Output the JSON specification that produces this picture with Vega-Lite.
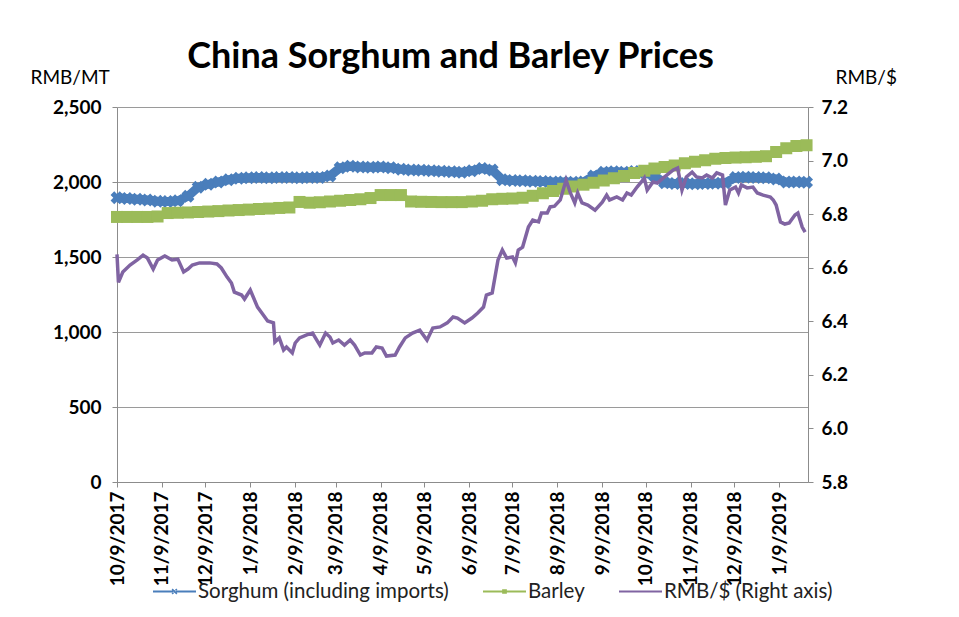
{
"$schema": "https://vega.github.io/schema/vega-lite/v6.json",
"width": 691, "height": 375,
"autosize": {"type": "none"},
"padding": {"left": 117, "top": 107, "right": 151, "bottom": 135},
"background": "white",
"title": {"text": "China Sorghum and Barley Prices", "font": "Lato", "fontSize": 36, "fontWeight": "bold", "color": "#000", "anchor": "middle", "frame": "group", "dx": -12, "offset": -36, "baseline": "alphabetic"},
"datasets": {
"sorghum": [
{"d":"2017-10-09","v":1895},{"d":"2017-10-16","v":1890},{"d":"2017-10-23","v":1885},{"d":"2017-10-30","v":1880},{"d":"2017-11-06","v":1872},{"d":"2017-11-13","v":1870},{"d":"2017-11-20","v":1875},{"d":"2017-11-27","v":1905},{"d":"2017-12-04","v":1965},{"d":"2017-12-11","v":1985},{"d":"2017-12-18","v":2000},{"d":"2017-12-25","v":2015},
{"d":"2018-01-01","v":2025},{"d":"2018-01-08","v":2028},{"d":"2018-01-15","v":2030},{"d":"2018-01-22","v":2028},{"d":"2018-01-29","v":2030},{"d":"2018-02-05","v":2030},{"d":"2018-02-12","v":2028},{"d":"2018-02-19","v":2030},{"d":"2018-02-26","v":2030},{"d":"2018-03-05","v":2040},{"d":"2018-03-12","v":2095},{"d":"2018-03-19","v":2105},{"d":"2018-03-26","v":2100},
{"d":"2018-04-02","v":2098},{"d":"2018-04-09","v":2100},{"d":"2018-04-16","v":2095},{"d":"2018-04-23","v":2085},{"d":"2018-04-30","v":2080},{"d":"2018-05-07","v":2078},{"d":"2018-05-14","v":2075},{"d":"2018-05-21","v":2072},{"d":"2018-05-28","v":2068},{"d":"2018-06-04","v":2065},{"d":"2018-06-11","v":2075},{"d":"2018-06-18","v":2090},{"d":"2018-06-25","v":2080},
{"d":"2018-07-02","v":2015},{"d":"2018-07-09","v":2010},{"d":"2018-07-16","v":2008},{"d":"2018-07-23","v":2005},{"d":"2018-07-30","v":2003},{"d":"2018-08-06","v":2000},{"d":"2018-08-13","v":2000},{"d":"2018-08-20","v":1998},{"d":"2018-08-27","v":2000},{"d":"2018-09-03","v":2040},{"d":"2018-09-10","v":2065},{"d":"2018-09-17","v":2068},{"d":"2018-09-24","v":2065},
{"d":"2018-10-01","v":2070},{"d":"2018-10-08","v":2065},{"d":"2018-10-15","v":2040},{"d":"2018-10-22","v":1995},{"d":"2018-10-29","v":1990},{"d":"2018-11-05","v":1990},{"d":"2018-11-12","v":1988},{"d":"2018-11-19","v":1990},{"d":"2018-11-26","v":1992},{"d":"2018-12-03","v":1995},{"d":"2018-12-10","v":2030},{"d":"2018-12-17","v":2032},{"d":"2018-12-24","v":2030},{"d":"2018-12-31","v":2028},
{"d":"2019-01-07","v":2020},{"d":"2019-01-14","v":2000},{"d":"2019-01-21","v":2000},{"d":"2019-01-28","v":1998}
],
"barley": [
{"d":"2017-10-09","v":1767},{"d":"2017-10-16","v":1767},{"d":"2017-10-23","v":1767},{"d":"2017-10-30","v":1767},{"d":"2017-11-06","v":1770},{"d":"2017-11-13","v":1793},{"d":"2017-11-20","v":1795},{"d":"2017-11-27","v":1797},{"d":"2017-12-04","v":1800},{"d":"2017-12-11","v":1803},{"d":"2017-12-18","v":1806},{"d":"2017-12-25","v":1810},
{"d":"2018-01-01","v":1813},{"d":"2018-01-08","v":1816},{"d":"2018-01-15","v":1820},{"d":"2018-01-22","v":1823},{"d":"2018-01-29","v":1827},{"d":"2018-02-05","v":1830},{"d":"2018-02-12","v":1867},{"d":"2018-02-19","v":1862},{"d":"2018-02-26","v":1865},{"d":"2018-03-05","v":1870},{"d":"2018-03-12","v":1875},{"d":"2018-03-19","v":1880},{"d":"2018-03-26","v":1885},
{"d":"2018-04-02","v":1893},{"d":"2018-04-09","v":1913},{"d":"2018-04-16","v":1913},{"d":"2018-04-23","v":1913},{"d":"2018-04-30","v":1870},{"d":"2018-05-07","v":1868},{"d":"2018-05-14","v":1867},{"d":"2018-05-21","v":1866},{"d":"2018-05-28","v":1866},{"d":"2018-06-04","v":1866},{"d":"2018-06-11","v":1870},{"d":"2018-06-18","v":1875},{"d":"2018-06-25","v":1885},
{"d":"2018-07-02","v":1888},{"d":"2018-07-09","v":1890},{"d":"2018-07-16","v":1895},{"d":"2018-07-23","v":1908},{"d":"2018-07-30","v":1925},{"d":"2018-08-06","v":1940},{"d":"2018-08-13","v":1955},{"d":"2018-08-20","v":1970},{"d":"2018-08-27","v":1982},{"d":"2018-09-03","v":1995},{"d":"2018-09-10","v":2010},{"d":"2018-09-17","v":2025},{"d":"2018-09-24","v":2040},
{"d":"2018-10-01","v":2060},{"d":"2018-10-08","v":2075},{"d":"2018-10-15","v":2090},{"d":"2018-10-22","v":2100},{"d":"2018-10-29","v":2110},{"d":"2018-11-05","v":2125},{"d":"2018-11-12","v":2135},{"d":"2018-11-19","v":2145},{"d":"2018-11-26","v":2155},{"d":"2018-12-03","v":2160},{"d":"2018-12-10","v":2163},{"d":"2018-12-17","v":2165},{"d":"2018-12-24","v":2168},{"d":"2018-12-31","v":2172},
{"d":"2019-01-07","v":2200},{"d":"2019-01-14","v":2225},{"d":"2019-01-21","v":2240},{"d":"2019-01-28","v":2245}
],
"rmb": [
{"d":"2017-10-09","v":6.65},{"d":"2017-10-10","v":6.545},{"d":"2017-10-13","v":6.584},{"d":"2017-10-18","v":6.61},{"d":"2017-10-23","v":6.629},{"d":"2017-10-27","v":6.647},{"d":"2017-10-30","v":6.636},{"d":"2017-11-03","v":6.595},{"d":"2017-11-06","v":6.629},{"d":"2017-11-11","v":6.644},{"d":"2017-11-16","v":6.629},{"d":"2017-11-20","v":6.632},{"d":"2017-11-24","v":6.584},{"d":"2017-11-27","v":6.595},{"d":"2017-11-30","v":6.61},
{"d":"2017-12-05","v":6.618},{"d":"2017-12-12","v":6.618},{"d":"2017-12-17","v":6.614},{"d":"2017-12-20","v":6.599},{"d":"2017-12-24","v":6.565},{"d":"2017-12-27","v":6.543},{"d":"2017-12-29","v":6.509},
{"d":"2018-01-03","v":6.498},{"d":"2018-01-05","v":6.483},{"d":"2018-01-09","v":6.517},{"d":"2018-01-14","v":6.453},{"d":"2018-01-17","v":6.431},{"d":"2018-01-21","v":6.401},{"d":"2018-01-25","v":6.394},{"d":"2018-01-26","v":6.323},{"d":"2018-01-29","v":6.338},
{"d":"2018-02-01","v":6.293},{"d":"2018-02-03","v":6.304},{"d":"2018-02-07","v":6.282},{"d":"2018-02-09","v":6.319},{"d":"2018-02-12","v":6.338},{"d":"2018-02-17","v":6.349},{"d":"2018-02-21","v":6.356},{"d":"2018-02-26","v":6.311},
{"d":"2018-03-02","v":6.356},{"d":"2018-03-05","v":6.341},{"d":"2018-03-07","v":6.319},{"d":"2018-03-11","v":6.33},{"d":"2018-03-15","v":6.311},{"d":"2018-03-19","v":6.33},{"d":"2018-03-22","v":6.311},{"d":"2018-03-26","v":6.274},{"d":"2018-03-29","v":6.282},
{"d":"2018-04-03","v":6.282},{"d":"2018-04-06","v":6.304},{"d":"2018-04-10","v":6.3},{"d":"2018-04-13","v":6.27},{"d":"2018-04-19","v":6.274},{"d":"2018-04-22","v":6.304},{"d":"2018-04-26","v":6.338},
{"d":"2018-05-01","v":6.356},{"d":"2018-05-06","v":6.367},{"d":"2018-05-11","v":6.33},{"d":"2018-05-15","v":6.375},{"d":"2018-05-20","v":6.379},{"d":"2018-05-25","v":6.394},{"d":"2018-05-29","v":6.416},
{"d":"2018-06-01","v":6.412},{"d":"2018-06-06","v":6.394},{"d":"2018-06-11","v":6.412},{"d":"2018-06-15","v":6.431},{"d":"2018-06-19","v":6.453},{"d":"2018-06-21","v":6.498},{"d":"2018-06-25","v":6.506},{"d":"2018-06-29","v":6.629},
{"d":"2018-07-02","v":6.666},{"d":"2018-07-05","v":6.636},{"d":"2018-07-09","v":6.64},{"d":"2018-07-11","v":6.618},{"d":"2018-07-13","v":6.666},{"d":"2018-07-16","v":6.677},{"d":"2018-07-20","v":6.752},{"d":"2018-07-23","v":6.778},{"d":"2018-07-27","v":6.771},{"d":"2018-07-29","v":6.804},
{"d":"2018-08-02","v":6.804},{"d":"2018-08-04","v":6.827},{"d":"2018-08-07","v":6.83},{"d":"2018-08-11","v":6.853},{"d":"2018-08-15","v":6.927},{"d":"2018-08-18","v":6.879},{"d":"2018-08-21","v":6.842},{"d":"2018-08-23","v":6.879},{"d":"2018-08-26","v":6.842},{"d":"2018-08-30","v":6.834},
{"d":"2018-09-04","v":6.815},{"d":"2018-09-09","v":6.845},{"d":"2018-09-12","v":6.871},{"d":"2018-09-14","v":6.853},{"d":"2018-09-19","v":6.864},{"d":"2018-09-23","v":6.853},{"d":"2018-09-26","v":6.879},{"d":"2018-09-29","v":6.871},
{"d":"2018-10-03","v":6.901},{"d":"2018-10-07","v":6.927},{"d":"2018-10-08","v":6.935},{"d":"2018-10-10","v":6.89},{"d":"2018-10-14","v":6.92},{"d":"2018-10-17","v":6.916},{"d":"2018-10-22","v":6.939},{"d":"2018-10-28","v":6.965},{"d":"2018-10-31","v":6.972},
{"d":"2018-11-03","v":6.89},{"d":"2018-11-06","v":6.939},{"d":"2018-11-10","v":6.957},{"d":"2018-11-13","v":6.939},{"d":"2018-11-17","v":6.935},{"d":"2018-11-20","v":6.946},{"d":"2018-11-24","v":6.935},{"d":"2018-11-27","v":6.954},
{"d":"2018-12-01","v":6.946},{"d":"2018-12-03","v":6.834},{"d":"2018-12-06","v":6.89},{"d":"2018-12-10","v":6.901},{"d":"2018-12-12","v":6.879},{"d":"2018-12-14","v":6.909},{"d":"2018-12-18","v":6.898},{"d":"2018-12-22","v":6.901},{"d":"2018-12-25","v":6.879},{"d":"2018-12-29","v":6.871},
{"d":"2019-01-03","v":6.864},{"d":"2019-01-05","v":6.853},{"d":"2019-01-07","v":6.834},{"d":"2019-01-10","v":6.771},{"d":"2019-01-13","v":6.763},{"d":"2019-01-16","v":6.767},{"d":"2019-01-20","v":6.797},{"d":"2019-01-22","v":6.804},{"d":"2019-01-25","v":6.752},{"d":"2019-01-27","v":6.733}
]
},
"layer": [
{
"layer": [
{
"data": {"name": "sorghum"},
"mark": {"type": "line", "strokeWidth": 9},
"encoding": {
"x": {"field": "d", "type": "temporal", "title": null,
"scale": {"domain": [{"year": 2017, "month": 10, "date": 9}, {"year": 2019, "month": 1, "date": 29}]},
"axis": {"values": [{"year":2017,"month":10,"date":9},{"year":2017,"month":11,"date":9},{"year":2017,"month":12,"date":9},{"year":2018,"month":1,"date":9},{"year":2018,"month":2,"date":9},{"year":2018,"month":3,"date":9},{"year":2018,"month":4,"date":9},{"year":2018,"month":5,"date":9},{"year":2018,"month":6,"date":9},{"year":2018,"month":7,"date":9},{"year":2018,"month":8,"date":9},{"year":2018,"month":9,"date":9},{"year":2018,"month":10,"date":9},{"year":2018,"month":11,"date":9},{"year":2018,"month":12,"date":9},{"year":2019,"month":1,"date":9}],
"format": "%-m/%-d/%Y", "labelAngle": -90, "grid": false, "labelPadding": 4, "labelOverlap": false, "labelFlush": false, "labelBound": false}},
"y": {"field": "v", "type": "quantitative",
"scale": {"domain": [0, 2500], "nice": false},
"axis": {"values": [0, 500, 1000, 1500, 2000, 2500], "format": ",.0f", "title": "RMB/MT", "titleAngle": 0, "titleAlign": "left", "titleBaseline": "alphabetic", "titleX": -87, "titleY": -24, "grid": true, "gridColor": "#9a9a9a", "labelPadding": 11}},
"color": {"datum": "Sorghum (including imports)", "type": "nominal",
"scale": {"domain": ["Sorghum (including imports)", "Barley", "RMB/$ (Right axis)"]},
"legend": {"orient": "none", "legendX": 36, "legendY": 463, "direction": "horizontal", "columns": 3, "title": null, "padding": 0,
"symbolSize": 1849, "symbolStrokeWidth": 0, "labelFont": "Lato", "labelFontSize": 20.5, "labelColor": "#222", "labelOffset": 2, "labelLimit": 400, "columnPadding": 34,
"encode": {"symbols": {"update": {
"shape": {"signal": "datum.value === 'Barley' ? 'M-1,-0.05H1V0.05H-1Z M-0.11,-0.11H0.11V0.11H-0.11Z' : (datum.value === 'RMB/$ (Right axis)' ? 'M-1,-0.05H1V0.05H-1Z' : 'M-1,-0.05H1V0.05H-1Z M-0.135,-0.085L-0.085,-0.135L0.135,0.085L0.085,0.135Z M0.135,-0.085L0.085,-0.135L-0.135,0.085L-0.085,0.135Z')"},
"fill": {"scale": "color", "field": "value"},
"opacity": {"value": 1}}}}}}
}
},
{
"data": {"name": "sorghum"},
"mark": {"type": "point", "shape": "cross", "angle": 45, "filled": true, "size": 170, "opacity": 1},
"encoding": {
"x": {"field": "d", "type": "temporal"},
"y": {"field": "v", "type": "quantitative"},
"color": {"datum": "Sorghum (including imports)", "type": "nominal"}
}
},
{
"data": {"name": "barley"},
"mark": {"type": "line", "strokeWidth": 6},
"encoding": {
"x": {"field": "d", "type": "temporal"},
"y": {"field": "v", "type": "quantitative"},
"color": {"datum": "Barley", "type": "nominal"}
}
},
{
"data": {"name": "barley"},
"mark": {"type": "point", "shape": "square", "filled": true, "size": 144, "opacity": 1},
"encoding": {
"x": {"field": "d", "type": "temporal"},
"y": {"field": "v", "type": "quantitative"},
"color": {"datum": "Barley", "type": "nominal"}
}
}
]
},
{
"data": {"name": "rmb"},
"mark": {"type": "line", "strokeWidth": 3.5},
"encoding": {
"x": {"field": "d", "type": "temporal"},
"y": {"field": "v", "type": "quantitative",
"scale": {"domain": [5.8, 7.2], "nice": false, "zero": false},
"axis": {"orient": "right", "values": [5.8, 6.0, 6.2, 6.4, 6.6, 6.8, 7.0, 7.2], "format": ".1f", "title": "RMB/$", "titleAngle": 0, "titleAlign": "left", "titleBaseline": "alphabetic", "titleX": 27, "titleY": -24, "grid": false, "labelPadding": 8}},
"color": {"datum": "RMB/$ (Right axis)", "type": "nominal"}
}
}
],
"resolve": {"scale": {"y": "independent"}},
"config": {
"font": "Lato",
"view": {"stroke": null},
"axis": {"labelFont": "Lato", "labelFontSize": 19, "labelFontWeight": "bold", "labelColor": "#000", "domainColor": "#8c8c8c", "tickColor": "#8c8c8c", "tickSize": 5, "titleFont": "Lato", "titleFontWeight": "normal", "titleFontSize": 19, "titleColor": "#000"},
"range": {"category": ["#4a7ebb", "#9bbb59", "#8064a2"]}
}
}
